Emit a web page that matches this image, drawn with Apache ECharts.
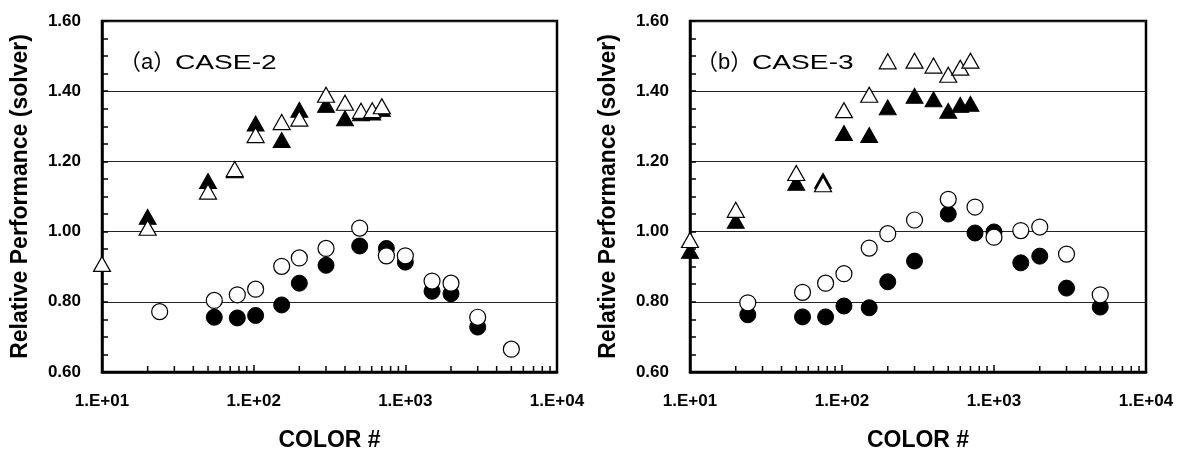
<!DOCTYPE html>
<html>
<head>
<meta charset="utf-8">
<script src="https://cdn.jsdelivr.net/npm/echarts@6/dist/echarts.min.js"></script>
<style>html,body{margin:0;padding:0;background:#fff;}#c{width:1177px;height:457px;}</style>
</head>
<body>
<div id="c"></div>
<script>
// ---- Data (a) CASE-2 ----
const filledTriX_a = [20, 50, 75, 103, 153, 200, 300, 400, 510, 605, 700];
const filledTriY_a = [1.042, 1.144, 1.175, 1.308, 1.261, 1.347, 1.361, 1.323, 1.337, 1.339, 1.349];
const openTriX_a = [10, 20, 50, 75, 103, 153, 200, 300, 400, 510, 605, 700];
const openTriY_a = [0.908, 1.011, 1.114, 1.178, 1.275, 1.312, 1.322, 1.390, 1.367, 1.344, 1.346, 1.357];
const filledCircX_a = [55, 78, 103, 153, 200, 300, 500, 750, 1000, 1500, 2000, 3000];
const filledCircY_a = [0.756, 0.754, 0.761, 0.791, 0.853, 0.904, 0.959, 0.952, 0.913, 0.830, 0.823, 0.728];
const openCircX_a = [24, 55, 78, 103, 153, 200, 300, 500, 750, 1000, 1500, 2000, 3000, 5000];
const openCircY_a = [0.772, 0.804, 0.820, 0.836, 0.901, 0.925, 0.952, 1.010, 0.931, 0.931, 0.859, 0.853, 0.756, 0.665];

// ---- Data (b) CASE-3 ----
const triX_b = [10, 20, 50, 75, 103, 151, 200, 300, 400, 500, 600, 700];
const filledTriY_b = [0.945, 1.031, 1.139, 1.145, 1.281, 1.275, 1.354, 1.387, 1.377, 1.344, 1.361, 1.364];
const openTriY_b = [0.976, 1.062, 1.167, 1.135, 1.346, 1.390, 1.485, 1.487, 1.473, 1.447, 1.467, 1.487];
const circX_b = [24, 55, 78, 103, 151, 200, 300, 500, 750, 1000, 1500, 2000, 3000, 5000];
const filledCircY_b = [0.763, 0.757, 0.757, 0.788, 0.783, 0.857, 0.916, 1.050, 0.996, 0.999, 0.911, 0.930, 0.839, 0.785];
const openCircY_b = [0.797, 0.827, 0.853, 0.880, 0.953, 0.994, 1.033, 1.092, 1.070, 0.984, 1.003, 1.013, 0.936, 0.820];

// ---- Axis / text ----
const panelTags = ['（a）', '（b）'];
const panelCases = ['CASE-2', 'CASE-3'];
const xName = 'COLOR #';
const yName = 'Relative Performance (solver)';
const xMin = 10, xMax = 10000;
const yMin = 0.6, yMax = 1.6, yInterval = 0.2;
const xMinorTicks = [20,30,40,50,60,70,80,90,200,300,400,500,600,700,800,900,2000,3000,4000,5000,6000,7000,8000,9000];

const zip = (xs, ys) => xs.map((x, i) => [x, ys[i]]);
const FONT = '"Liberation Sans", Arial, sans-serif';

function xAxis(gi) {
  return {
    type: 'log', logBase: 10, min: xMin, max: xMax, gridIndex: gi,
    name: xName, nameLocation: 'middle', nameGap: 57,
    nameTextStyle: { fontFamily: FONT, fontWeight: 'bold', fontSize: 23, color: '#000' },
    axisLine: { show: true, lineStyle: { color: '#000', width: 2.5 } },
    axisTick: { show: true, inside: true, length: 7, lineStyle: { color: '#000', width: 1.5 } },
    axisLabel: { fontFamily: FONT, fontWeight: 'bold', fontSize: 17, color: '#000', margin: 21,
      formatter: v => '1.E+' + String(Math.round(Math.log10(v))).padStart(2, '0') },
    splitLine: { show: false }
  };
}
function yAxis(gi) {
  return {
    type: 'value', min: yMin, max: yMax, interval: yInterval, gridIndex: gi,
    name: yName, nameLocation: 'middle', nameGap: 70, nameRotate: 90,
    nameTextStyle: { fontFamily: FONT, fontWeight: 'bold', fontSize: 23, color: '#000' },
    axisLine: { show: true, lineStyle: { color: '#000', width: 2.5 } },
    axisTick: { show: true, inside: true, length: 6, lineStyle: { color: '#000', width: 1.5 } },
    minorTick: { show: true, splitNumber: 4, length: 6, lineStyle: { color: '#000', width: 1.5 } },
    axisLabel: { fontFamily: FONT, fontWeight: 'bold', fontSize: 17, color: '#000', margin: 21,
      formatter: v => v.toFixed(2) },
    splitLine: { show: true, lineStyle: { color: '#222', width: 1 } }
  };
}
function scatter(gi, data, symbol, filled) {
  return {
    type: 'scatter', xAxisIndex: gi, yAxisIndex: gi, data: data,
    symbol: symbol,
    symbolSize: symbol === 'circle' ? 16 : [17, 15],
    itemStyle: filled ? { color: '#000', borderColor: '#000', borderWidth: 1, opacity: 1 }
                      : { color: '#fff', borderColor: '#000', borderWidth: 1.2, opacity: 1 },
    emphasis: { disabled: true }, silent: true, animation: false
  };
}
function minorTickSeries(gi) {
  return {
    type: 'custom', xAxisIndex: gi, yAxisIndex: gi, silent: true, animation: false,
    data: xMinorTicks.map(v => [v, yMin]),
    renderItem: (params, api) => {
      const p = api.coord([api.value(0), api.value(1)]);
      return { type: 'line', shape: { x1: p[0], y1: p[1], x2: p[0], y2: p[1] - 6 },
        style: { stroke: '#000', lineWidth: 1.5 } };
    }
  };
}
function label(x, y, text, size, sx) {
  return { type: 'text', x: x, y: y, scaleX: sx, silent: true,
    style: { text: text, fontSize: size, fontFamily: FONT + ', "Noto Sans CJK JP"', fill: '#000',
      verticalAlign: 'middle', align: 'left' } };
}

const chart = echarts.init(document.getElementById('c'), null, { renderer: 'canvas' });
chart.setOption({
  animation: false,
  backgroundColor: '#fff',
  grid: [
    { left: 102, top: 21, width: 455, height: 360, show: true, borderColor: '#000', borderWidth: 2.5, backgroundColor: 'transparent' },
    { left: 690, top: 21, width: 456, height: 360, show: true, borderColor: '#000', borderWidth: 2.5, backgroundColor: 'transparent' }
  ],
  xAxis: [xAxis(0), xAxis(1)],
  yAxis: [yAxis(0), yAxis(1)],
  series: [
    scatter(0, zip(filledTriX_a, filledTriY_a), 'triangle', true),
    scatter(0, zip(openTriX_a, openTriY_a), 'triangle', false),
    scatter(0, zip(filledCircX_a, filledCircY_a), 'circle', true),
    scatter(0, zip(openCircX_a, openCircY_a), 'circle', false),
    minorTickSeries(0),
    scatter(1, zip(triX_b, filledTriY_b), 'triangle', true),
    scatter(1, zip(triX_b, openTriY_b), 'triangle', false),
    scatter(1, zip(circX_b, filledCircY_b), 'circle', true),
    scatter(1, zip(circX_b, openCircY_b), 'circle', false),
    minorTickSeries(1)
  ],
  graphic: [
    label(119, 63, panelTags[0], 22, 1),
    label(175, 63, panelCases[0], 21, 1.34),
    label(696, 63, panelTags[1], 22, 1),
    label(752, 63, panelCases[1], 21, 1.34)
  ]
});
</script>
</body>
</html>
